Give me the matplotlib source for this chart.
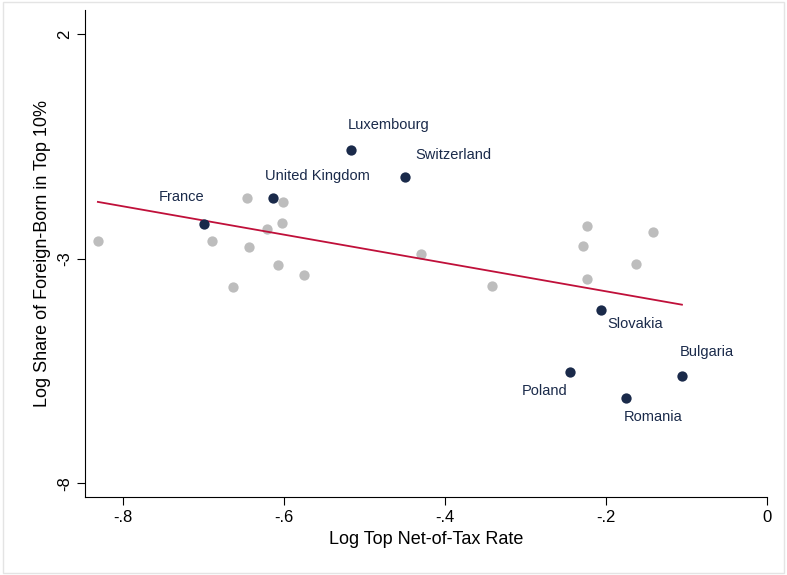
import matplotlib.pyplot as plt
from matplotlib.patches import Rectangle

plt.rcParams['font.family'] = ['Liberation Sans', 'DejaVu Sans']

# highlighted countries
names = ["Luxembourg", "Switzerland", "United Kingdom", "France",
         "Slovakia", "Poland", "Bulgaria", "Romania"]
hx = [-0.517, -0.450, -0.614, -0.699, -0.207, -0.245, -0.106, -0.175]
hy = [-0.57, -1.17, -1.64, -2.22, -4.14, -5.52, -5.61, -6.10]
# label offsets in points (dx, dy)
offs = [(27, 18), (35, 16), (32, 16), (-16, 19), (25, -10), (-18, -14), (18, 17), (19, -14)]

# other countries
gx = [-0.831, -0.689, -0.646, -0.601, -0.602, -0.621, -0.643, -0.607, -0.575,
      -0.663, -0.430, -0.342, -0.224, -0.229, -0.142, -0.163, -0.224]
gy = [-2.60, -2.60, -1.64, -1.73, -2.20, -2.33, -2.73, -3.13, -3.36,
      -3.62, -2.89, -3.60, -2.27, -2.71, -2.40, -3.11, -3.45]

# fitted line
fit_x = [-0.831, -0.106]
fit_y = [-1.73, -4.02]

fig = plt.figure(figsize=(7.87, 5.75), dpi=100)
fig.patches.append(Rectangle((0.004, 0.004), 0.992, 0.992, transform=fig.transFigure,
                             fill=False, edgecolor="#e4e4e4", lw=1))
ax = fig.add_axes([0.108, 0.136, 0.867, 0.847])

ax.scatter(gx, gy, s=55, color="#bdbdbd", zorder=2, linewidths=0)
ax.plot(fit_x, fit_y, color="#c0103a", lw=1.3, zorder=3)
ax.scatter(hx, hy, s=55, color="#1a2a4a", zorder=4, linewidths=0)
for n, x, y, (dx, dy) in zip(names, hx, hy, offs):
    ax.annotate(n, (x, y), xytext=(dx, dy), textcoords="offset points",
                ha="center", va="center", fontsize=10.5, color="#1a2a4a")

ax.set_xlim(-0.847, 0.0)
ax.set_ylim(-8.3, 2.55)
ax.set_xticks([-0.8, -0.6, -0.4, -0.2, 0])
ax.set_xticklabels(["-.8", "-.6", "-.4", "-.2", "0"], fontsize=12)
ax.set_yticks([2, -3, -8])
ax.set_yticklabels(["2", "-3", "-8"], fontsize=12, rotation=90, va="center")
ax.spines["top"].set_visible(False)
ax.spines["right"].set_visible(False)
ax.tick_params(length=6)
ax.set_xlabel("Log Top Net-of-Tax Rate", fontsize=13)
ax.set_ylabel("Log Share of Foreign-Born in Top 10%", fontsize=13)

fig.savefig("out.png")
